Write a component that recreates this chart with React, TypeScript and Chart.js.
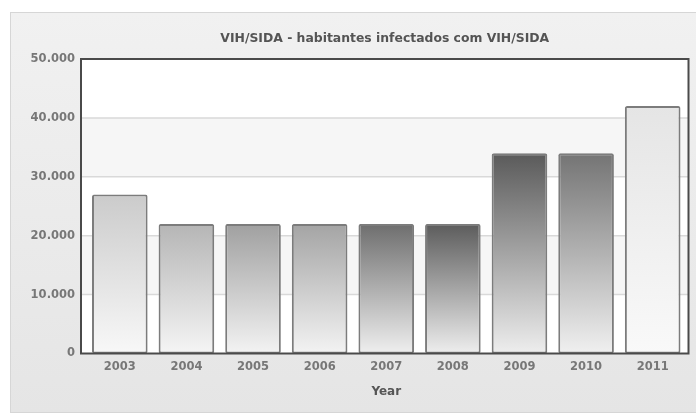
import { useEffect, useRef } from "react";
import { Chart, registerables } from "chart.js";

Chart.register(...registerables);

// ---- data ----
const years = ["2003", "2004", "2005", "2006", "2007", "2008", "2009", "2010", "2011"];
const infected = [27000, 22000, 22000, 22000, 22000, 22000, 34000, 34000, 42000];
const yTickValues = [0, 10000, 20000, 30000, 40000, 50000];
const chartTitle = "VIH/SIDA - habitantes infectados com VIH/SIDA";
const xTitle = "Year";

// ---- styles ----
const TOP_SHADES = ["#cbcbcb", "#b5b5b5", "#a0a0a0", "#a4a4a4", "#6e6e6e", "#5c5c5c", "#5a5a5a", "#747474", "#e5e5e5"];
const BOTTOM_SHADES = ["#f8f8f8", "#f5f5f5", "#f3f3f3", "#f3f3f3", "#efefef", "#eeeeee", "#eeeeee", "#f0f0f0", "#f9f9f9"];
const FONT = "'DejaVu Sans', Verdana, sans-serif";

const fmt = (n: number) => String(n).replace(/\B(?=(\d{3})+(?!\d))/g, ".");

const decorPlugin = {
  id: "decor",
  beforeDraw(chart: any) {
    const { ctx, width, height, chartArea, scales } = chart;
    ctx.save();
    ctx.fillStyle = "#ffffff";
    ctx.fillRect(0, 0, width, height);
    // panel
    const g = ctx.createLinearGradient(0, 12, 0, 413);
    g.addColorStop(0, "#f1f1f1");
    g.addColorStop(1, "#e5e5e5");
    ctx.fillStyle = g;
    ctx.fillRect(10, 12, width - 10, 401);
    ctx.strokeStyle = "#d6d6d6";
    ctx.lineWidth = 1;
    ctx.strokeRect(10.5, 12.5, width, 400);
    // title
    ctx.fillStyle = "#545454";
    ctx.font = `bold 12.4px ${FONT}`;
    ctx.textAlign = "center";
    ctx.textBaseline = "middle";
    const fl = chartArea.left - 5.5;
    const fr = chartArea.right + 2.5;
    ctx.fillText(chartTitle, (fl + fr) / 2, 38.5);
    // plot background + bands
    ctx.fillStyle = "#ffffff";
    ctx.fillRect(fl, chartArea.top, fr - fl, chartArea.bottom - chartArea.top);
    const y = scales.y;
    for (let i = 0; i < yTickValues.length - 1; i++) {
      if ((yTickValues.length - 2 - i) % 2 === 1) {
        const a = y.getPixelForValue(yTickValues[i]);
        const b = y.getPixelForValue(yTickValues[i + 1]);
        ctx.fillStyle = "#f6f6f6";
        ctx.fillRect(fl, b, fr - fl, a - b);
      }
    }
    // grid lines
    ctx.strokeStyle = "#d9d9d9";
    ctx.lineWidth = 1.5;
    for (const v of yTickValues) {
      if (v === 0 || v === 50000) continue;
      const p = y.getPixelForValue(v);
      ctx.beginPath();
      ctx.moveTo(fl, p);
      ctx.lineTo(fr, p);
      ctx.stroke();
    }
    ctx.restore();
  },
  afterDatasetsDraw(chart: any) {
    const { ctx, chartArea } = chart;
    const fl = chartArea.left - 5.5;
    const fr = chartArea.right + 2.5;
    ctx.save();
    ctx.strokeStyle = "#4a4a4a";
    ctx.lineWidth = 2;
    ctx.strokeRect(fl, chartArea.top, fr - fl, chartArea.bottom - chartArea.top);
    ctx.restore();
  },
};

export default function App() {
  const ref = useRef<HTMLCanvasElement>(null);

  useEffect(() => {
    document.body.style.margin = "0";
    const canvas = ref.current!;
    const chart = new Chart(canvas, {
      type: "bar",
      data: {
        labels: years,
        datasets: [
          {
            data: infected,
            backgroundColor: (c: any) => {
              const i = c.dataIndex ?? 0;
              const ys = c.chart.scales?.y;
              if (!ys || c.type !== "data") return TOP_SHADES[i] || "#aaa";
              const top = ys.getPixelForValue(c.raw);
              const base = ys.getPixelForValue(0);
              if (!isFinite(top) || !isFinite(base) || top === base) return TOP_SHADES[i];
              const g = c.chart.ctx.createLinearGradient(0, top, 0, base);
              g.addColorStop(0, TOP_SHADES[i]);
              g.addColorStop(1, BOTTOM_SHADES[i]);
              return g;
            },
            borderColor: "#7c7c7c",
            borderWidth: 2,
            borderSkipped: false,
            borderRadius: 2,
            barPercentage: 0.835,
            categoryPercentage: 1,
          },
        ],
      },
      options: {
        responsive: false,
        animation: false,
        layout: { padding: { top: 59, right: 10, bottom: 0, left: 0 } },
        plugins: {
          legend: { display: false },
          tooltip: { enabled: false },
          title: { display: false },
        },
        scales: {
          x: {
            grid: { display: false, drawTicks: false },
            border: { display: false },
            ticks: {
              padding: 7,
              color: "#777777",
              font: { family: FONT, size: 11.5, weight: "bold" },
              maxRotation: 0,
            },
            title: {
              display: true,
              text: xTitle,
              color: "#555555",
              font: { family: FONT, size: 12, weight: "bold" },
              padding: { top: 0, bottom: 16 },
            },
            afterFit: (s: any) => {
              s.height = 61.5;
            },
          },
          y: {
            min: 0,
            max: 50000,
            afterBuildTicks: (s: any) => {
              s.ticks = yTickValues.map((v) => ({ value: v }));
            },
            grid: { display: false, drawTicks: false },
            border: { display: false },
            ticks: {
              padding: 11.5,
              color: "#777777",
              font: { family: FONT, size: 11.5, weight: "bold" },
              callback: (v: any) => fmt(Number(v)),
            },
            afterFit: (s: any) => {
              s.width = 86.5;
            },
          },
        },
      },
      plugins: [decorPlugin],
    });
    return () => chart.destroy();
  }, []);

  return <canvas ref={ref} width={696} height={415} style={{ display: "block" }} />;
}
